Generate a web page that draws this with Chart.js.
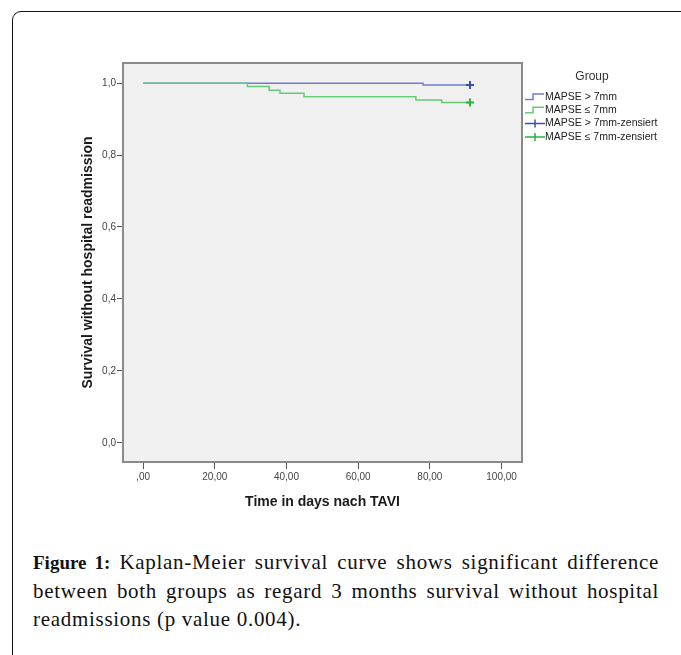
<!DOCTYPE html>
<html>
<head>
<meta charset="utf-8">
<script src="https://cdn.jsdelivr.net/npm/chart.js@4.4.0/dist/chart.umd.min.js"></script>
<style>
  html, body { margin: 0; padding: 0; background: #fff; width: 681px; height: 655px; overflow: hidden; }
  #frame { position: absolute; left: 12px; top: 11px; width: 720px; height: 720px; border: 1.5px solid #111; border-radius: 9px; }
  #chart { position: absolute; left: 0; top: 0; }
  #caption { position: absolute; left: 33px; top: 548px; width: 626px; font-family: "Liberation Serif", serif; font-size: 21px; letter-spacing: 0.7px; line-height: 28px; color: #111; }
  #caption .j { text-align: justify; text-align-last: justify; white-space: nowrap; }
  #caption b { font-size: 19px; letter-spacing: 0; }
</style>
</head>
<body>
<div id="frame"></div>
<canvas id="chart" width="681" height="520"></canvas>
<div id="caption">
  <div class="j"><b>Figure 1:</b> Kaplan-Meier survival curve shows significant difference</div>
  <div class="j">between both groups as regard 3 months survival without hospital</div>
  <div>readmissions (p value 0.004).</div>
</div>
<script>
const groupLabels = ["MAPSE > 7mm", "MAPSE ≤ 7mm", "MAPSE > 7mm-zensiert", "MAPSE ≤ 7mm-zensiert"];

// survival curves (days, proportion)
const bigDays = [0, 78.1, 91.2];
const bigSurvival = [1, 0.9945, 0.9945];
const smallDays = [0, 29.1, 35.2, 38.2, 44.9, 76.1, 83.3, 91.2];
const smallSurvival = [1, 0.991, 0.980, 0.972, 0.962, 0.953, 0.946, 0.946];

// censored cases
const bigCensorDays = [91.2];
const bigCensorSurvival = [0.9945];
const smallCensorDays = [91.2];
const smallCensorSurvival = [0.946];

const xTicks = [0, 20, 40, 60, 80, 100];
const xTickLabels = [",00", "20,00", "40,00", "60,00", "80,00", "100,00"];
const yTicks = [0, 0.2, 0.4, 0.6, 0.8, 1.0];
const yTickLabels = ["0,0", "0,2", "0,4", "0,6", "0,8", "1,0"];

const blueLine = "#6b7fca";
const greenLine = "#66cc74";
const blueCross = "#3a50b0";
const greenCross = "#28b43e";
const FONT = '"Liberation Sans", Arial, sans-serif';

function points(xs, ys) {
    return xs.map(function (x, i) { return { x: x, y: ys[i] }; });
}

// grey plot area with frame, like SPSS
const plotFrame = {
    id: 'plotFrame',
    beforeDraw: function (chart) {
        const a = chart.chartArea;
        const ctx = chart.ctx;
        ctx.save();
        ctx.fillStyle = '#f0f0f0';
        ctx.fillRect(a.left, a.top, a.right - a.left, a.bottom - a.top);
        ctx.restore();
    },
    afterDraw: function (chart) {
        const a = chart.chartArea;
        const ctx = chart.ctx;
        ctx.save();
        ctx.strokeStyle = '#8a8a8a';
        ctx.lineWidth = 2;
        ctx.strokeRect(a.left, a.top, a.right - a.left, a.bottom - a.top);
        ctx.restore();
    }
};

// legend on the right with step / cross symbols
const groupLegend = {
    id: 'groupLegend',
    afterDraw: function (chart) {
        const ctx = chart.ctx;
        const x0 = chart.chartArea.right + 3;
        ctx.save();
        ctx.fillStyle = '#333';
        ctx.font = '12px ' + FONT;
        ctx.textAlign = 'center';
        ctx.textBaseline = 'middle';
        ctx.fillText('Group', x0 + 67, 77);
        ctx.textAlign = 'left';
        ctx.font = '10.5px ' + FONT;
        chart.data.datasets.forEach(function (ds, i) {
            const y = 97 + i * 13.3;
            ctx.strokeStyle = ds.showLine === false ? ds.pointBorderColor : ds.borderColor;
            ctx.lineWidth = 1.5;
            ctx.beginPath();
            if (ds.showLine === false) {
                ctx.moveTo(x0, y);
                ctx.lineTo(x0 + 20, y);
                ctx.moveTo(x0 + 10, y - 4);
                ctx.lineTo(x0 + 10, y + 4);
            } else {
                ctx.moveTo(x0, y + 2.5);
                ctx.lineTo(x0 + 8, y + 2.5);
                ctx.lineTo(x0 + 8, y - 3);
                ctx.lineTo(x0 + 19, y - 3);
            }
            ctx.stroke();
            ctx.fillStyle = '#222';
            ctx.fillText(ds.label, x0 + 20, y);
        });
        ctx.restore();
    }
};

const chart = new Chart(document.getElementById('chart'), {
    type: 'line',
    data: {
        datasets: [{
            label: groupLabels[0],
            data: points(bigDays, bigSurvival),
            borderColor: blueLine,
            borderWidth: 1.5,
            stepped: true,
            pointRadius: 0,
            order: 2
        }, {
            label: groupLabels[1],
            data: points(smallDays, smallSurvival),
            borderColor: greenLine,
            borderWidth: 1.5,
            stepped: true,
            pointRadius: 0,
            order: 1
        }, {
            label: groupLabels[2],
            data: points(bigCensorDays, bigCensorSurvival),
            showLine: false,
            pointStyle: 'cross',
            pointRadius: 4,
            pointBorderWidth: 2,
            pointBorderColor: blueCross,
            order: 0
        }, {
            label: groupLabels[3],
            data: points(smallCensorDays, smallCensorSurvival),
            showLine: false,
            pointStyle: 'cross',
            pointRadius: 4,
            pointBorderWidth: 2,
            pointBorderColor: greenCross,
            order: 0
        }]
    },
    options: {
        responsive: false,
        animation: false,
        devicePixelRatio: 1,
        layout: { padding: { left: 80, top: 63, right: 159, bottom: 9 } },
        plugins: {
            legend: { display: false },
            tooltip: { enabled: false }
        },
        scales: {
            x: {
                type: 'linear',
                min: -5.6,
                max: 105.7,
                afterBuildTicks: function (s) { s.ticks = xTicks.map(function (v) { return { value: v }; }); },
                afterFit: function (s) { s.height = 49; },
                ticks: {
                    callback: function (v) { return xTickLabels[xTicks.indexOf(v)]; },
                    font: { family: FONT, size: 10 },
                    color: '#444',
                    padding: 2,
                    maxRotation: 0,
                    autoSkip: false
                },
                grid: { drawOnChartArea: false, drawTicks: true, tickLength: 7, color: '#555' },
                border: { display: false },
                title: {
                    display: true,
                    text: 'Time in days nach TAVI',
                    font: { family: FONT, size: 14, weight: 'bold' },
                    color: '#1a1a1a',
                    padding: { top: 4, bottom: 0 }
                }
            },
            y: {
                type: 'linear',
                min: -0.0535,
                max: 1.056,
                afterBuildTicks: function (s) { s.ticks = yTicks.map(function (v) { return { value: v }; }); },
                afterFit: function (s) { s.width = 43; },
                ticks: {
                    callback: function (v) { return yTickLabels[yTicks.indexOf(v)]; },
                    font: { family: FONT, size: 10 },
                    color: '#444',
                    padding: 1
                },
                grid: { drawOnChartArea: false, drawTicks: true, tickLength: 6, color: '#555' },
                border: { display: false },
                title: {
                    display: true,
                    text: 'Survival without hospital readmission',
                    font: { family: FONT, size: 14, weight: 'bold' },
                    color: '#1a1a1a',
                    padding: { top: 0, bottom: 0 }
                }
            }
        }
    },
    plugins: [plotFrame, groupLegend]
});
</script>
</body>
</html>
